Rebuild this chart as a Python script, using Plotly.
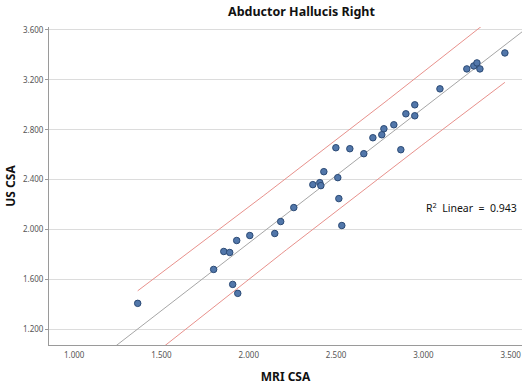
import numpy as np
import plotly.graph_objects as go

# Data
mri_csa = [3.467, 3.249, 3.289, 3.307, 3.324, 3.095, 2.951, 2.900, 2.951, 2.831,
           2.774, 2.762, 2.711, 2.499, 2.579, 2.659, 2.871, 2.430, 2.367, 2.407,
           2.413, 2.510, 2.516, 2.258, 2.183, 2.149, 2.533, 2.006, 1.931, 1.857,
           1.891, 1.799, 1.908, 1.937, 1.364]
us_csa = [3.416, 3.288, 3.312, 3.336, 3.288, 3.128, 3.000, 2.928, 2.912, 2.840,
          2.808, 2.760, 2.736, 2.656, 2.648, 2.608, 2.640, 2.464, 2.360, 2.376,
          2.352, 2.416, 2.248, 2.176, 2.064, 1.968, 2.032, 1.952, 1.912, 1.824,
          1.816, 1.680, 1.560, 1.488, 1.408]
x_ticks = [1.0, 1.5, 2.0, 2.5, 3.0, 3.5]
y_ticks = [1.2, 1.6, 2.0, 2.4, 2.8, 3.2, 3.6]
r2_text = "R<sup>2</sup>  Linear  =  0.943"
title_text = "Abductor Hallucis Right"
x_range = [0.856, 3.565]
y_range = [1.074, 3.624]
t_crit = 2.035  # t(0.975, df=33)

x = np.array(mri_csa)
y = np.array(us_csa)
n = len(x)
slope, intercept = np.polyfit(x, y, 1)
resid = y - (slope * x + intercept)
s = np.sqrt(np.sum(resid ** 2) / (n - 2))
xbar = x.mean()
sxx = np.sum((x - xbar) ** 2)

xl = np.linspace(x_range[0], x_range[1], 50)
xp = np.linspace(x.min(), x.max(), 80)
yp = slope * xp + intercept
half = t_crit * s * np.sqrt(1 + 1 / n + (xp - xbar) ** 2 / sxx)

red = "#e8918c"
fig = go.Figure()
fig.add_trace(go.Scatter(x=xp, y=yp + half, mode="lines",
                         line=dict(color=red, width=1), hoverinfo="skip"))
fig.add_trace(go.Scatter(x=xp, y=yp - half, mode="lines",
                         line=dict(color=red, width=1), hoverinfo="skip"))
fig.add_trace(go.Scatter(x=xl, y=slope * xl + intercept, mode="lines",
                         line=dict(color="#a6a6a6", width=1), hoverinfo="skip"))
fig.add_trace(go.Scatter(x=x, y=y, mode="markers",
                         marker=dict(size=6.5, color="#5277aa",
                                     line=dict(color="#2b4a75", width=1))))

tick_font = dict(family="Noto Sans", size=8, color="#555555")
fig.update_layout(
    width=522, height=388,
    margin=dict(l=49, r=0, t=27, b=43),
    paper_bgcolor="white", plot_bgcolor="white",
    showlegend=False,
    font=dict(family="Noto Sans"),
    xaxis=dict(range=x_range, tickvals=x_ticks, tickformat=".3f",
               showgrid=False, zeroline=False,
               showline=True, linecolor="#9a9a9a", linewidth=1,
               ticks="outside", ticklen=2, tickcolor="rgba(0,0,0,0)", tickfont=tick_font,
               title=dict(text="<b>MRI CSA</b>", font=dict(size=12, color="#111111"), standoff=14)),
    yaxis=dict(range=y_range, tickvals=y_ticks, tickformat=".3f",
               showgrid=True, gridcolor="#dcdcdc", gridwidth=1, zeroline=False,
               showline=True, linecolor="#9a9a9a", linewidth=1,
               ticks="outside", ticklen=3, tickcolor="#9a9a9a", tickfont=tick_font,
               title=dict(text="<b>US CSA</b>", font=dict(size=12, color="#111111"), standoff=4)),
    annotations=[
        dict(text="<b>" + title_text + "</b>", xref="paper", yref="paper",
             x=(301 - 49) / 473, y=1, yanchor="bottom", yshift=5,
             showarrow=False, font=dict(size=12.5, color="#111111")),
        dict(text=r2_text, xref="paper", yref="paper",
             x=1, xanchor="right", xshift=-3, y=(345 - 207) / 318, yanchor="middle",
             showarrow=False, font=dict(size=10.5, color="#111111")),
    ],
)

fig.write_html("out.html")
